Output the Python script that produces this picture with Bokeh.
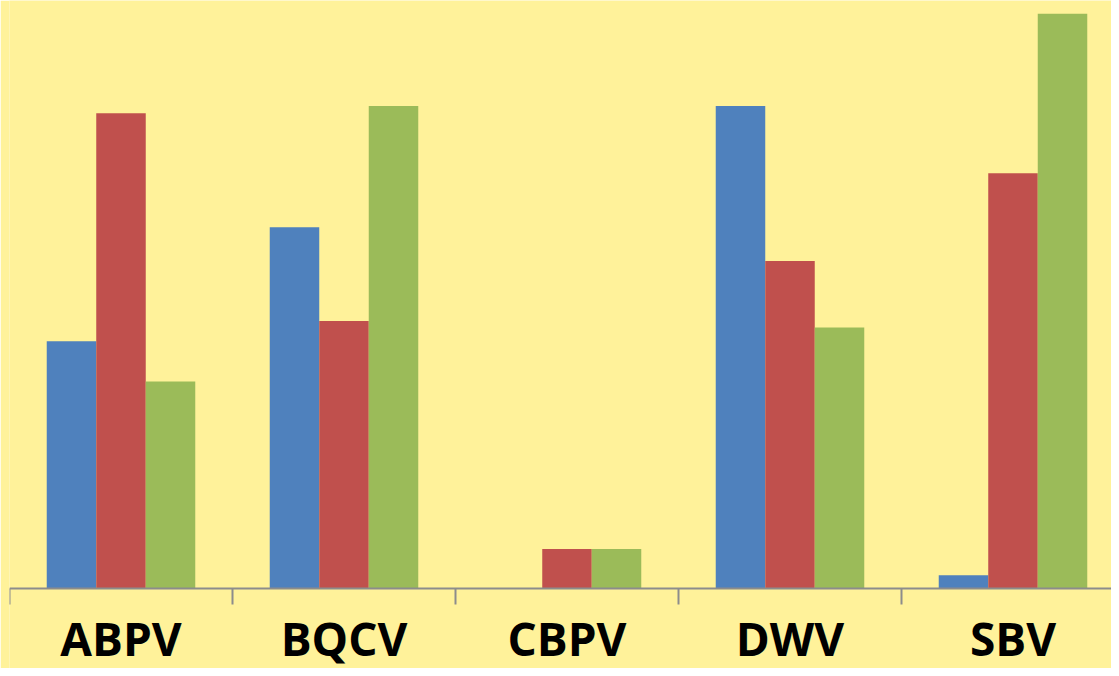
from bokeh.plotting import figure
from bokeh.models import Range1d, ColumnDataSource, Span
from bokeh.core.properties import value
from bokeh.embed import file_html
from bokeh.resources import INLINE

categories = ["ABPV", "BQCV", "CBPV", "DWV", "SBV"]
series_blue = [20.6, 30.1, 0.0, 40.2, 1.1]
series_red = [39.6, 22.3, 3.3, 27.3, 34.6]
series_green = [17.25, 40.2, 3.3, 21.75, 47.9]

colors = ["#4F81BD", "#C0504D", "#9BBB59"]
bg = "#FFF29A"
axis_col = "#8C8C8C"

W, H = 1111, 668
left = 9
axis_px = 588          # axis line position from top
cat_px = 223
ppu = 12.0

p = figure(width=W, height=H, output_backend="svg", toolbar_location=None,
           x_axis_location=None, y_axis_location=None,
           x_range=Range1d(0, (W - left) / cat_px),
           y_range=Range1d(-(H - axis_px) / ppu, axis_px / ppu),
           min_border_left=left, min_border_right=0, min_border_top=0, min_border_bottom=0)
p.background_fill_color = bg
p.border_fill_color = bg
p.outline_line_color = None
p.grid.visible = False

bw = 0.222
centers = [i + 0.5 for i in range(len(categories))]
for k, (vals, col) in enumerate(zip([series_blue, series_red, series_green], colors)):
    src = ColumnDataSource(dict(x=[c + (k - 1) * bw for c in centers], top=vals))
    p.vbar(x="x", top="top", bottom=0, width=bw, source=src, fill_color=col, line_color=None)

# category axis: baseline, boundary ticks, labels
p.add_layout(Span(location=0, dimension="width", line_color=axis_col, line_width=2))
bounds = list(range(len(categories) + 1))
p.segment(x0=bounds, y0=[0] * len(bounds), x1=bounds, y1=[-16 / ppu] * len(bounds),
          line_color=axis_col, line_width=2)
p.text(x=centers, y=[-(606 - axis_px) / ppu] * len(centers), text=categories,
       text_align="center", text_baseline="top",
       text_font=value("Open Sans"), text_font_style="bold",
       text_font_size="46px", text_color="black")

open("out.html", "w").write(file_html(p, INLINE))
